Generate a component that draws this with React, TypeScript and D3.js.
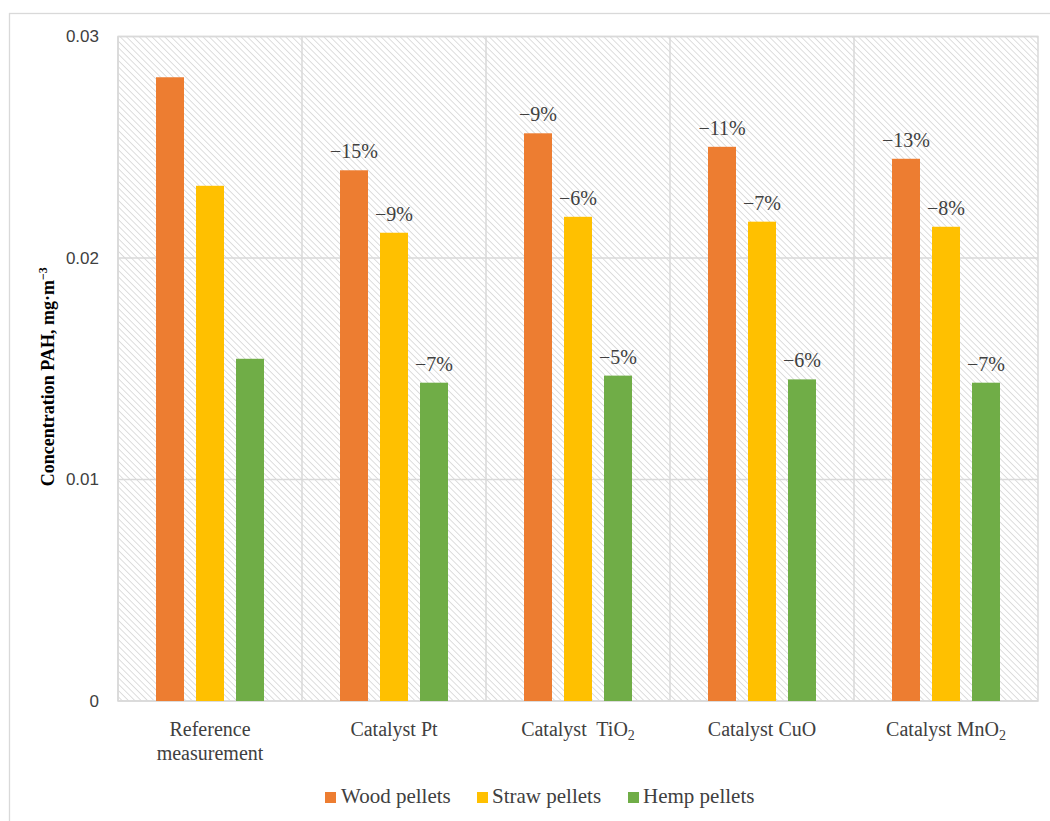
import React from "react";
import * as d3 from "d3";

const categories = ["Reference measurement", "Catalyst Pt", "Catalyst TiO2", "Catalyst CuO", "Catalyst MnO2"];
const seriesNames = ["Wood pellets", "Straw pellets", "Hemp pellets"];
const seriesColors = ["#ED7D31", "#FFC000", "#70AD47"];
const wood = [0.02816, 0.02396, 0.02563, 0.02502, 0.02448];
const straw = [0.02326, 0.02114, 0.02186, 0.02164, 0.02141];
const hemp = [0.01545, 0.01437, 0.01469, 0.01452, 0.01437];
const woodLabels = ["", "−15%", "−9%", "−11%", "−13%"];
const strawLabels = ["", "−9%", "−6%", "−7%", "−8%"];
const hempLabels = ["", "−7%", "−5%", "−6%", "−7%"];
const yTicks = [0, 0.01, 0.02, 0.03];
const yTickLabels = ["0", "0.01", "0.02", "0.03"];

const W = 1050, H = 821;
const M = { left: 118, right: 1038, top: 36.5, bottom: 701 };
const serif = "'Liberation Serif', 'Times New Roman', serif";
const sans = "'Liberation Sans', Arial, sans-serif";
const grid = "#d9d9d9";
const textCol = "#404040";

function CatLabel({ name, x }: { name: string; x: number }) {
  const y0 = 736;
  if (name === "Reference measurement") {
    return (
      <text x={x} y={y0} textAnchor="middle" fontFamily={serif} fontSize={20} fill={textCol}>
        <tspan x={x} y={y0}>Reference</tspan>
        <tspan x={x} y={y0 + 24}>measurement</tspan>
      </text>
    );
  }
  const m = name.match(/^(.*?)(\d)$/);
  if (m) {
    const base = name.includes("Ti") ? m[1].replace("Catalyst ", "Catalyst\u00a0 ") : m[1];
    return (
      <text x={x} y={y0} textAnchor="middle" fontFamily={serif} fontSize={20} fill={textCol}>
        {base}
        <tspan fontSize={14} dy={4}>{m[2]}</tspan>
      </text>
    );
  }
  return (
    <text x={x} y={y0} textAnchor="middle" fontFamily={serif} fontSize={20} fill={textCol}>{name}</text>
  );
}

export default function App() {
  const x0 = d3.scaleBand<string>().domain(categories).range([M.left, M.right]).padding(0);
  const x1 = d3.scaleBand<string>().domain(seriesNames).range([0, 108]).paddingInner(0.3).paddingOuter(0);
  const y = d3.scaleLinear().domain([0, 0.03]).range([M.bottom, M.top]);
  const data = [wood, straw, hemp];
  const labels = [woodLabels, strawLabels, hempLabels];
  const bw = x1.bandwidth();

  const legendItems = [
    { name: seriesNames[0], sx: 325, tx: 341 },
    { name: seriesNames[1], sx: 477, tx: 492 },
    { name: seriesNames[2], sx: 628, tx: 643 },
  ];

  return (
    <svg width={W} height={H} style={{ display: "block", position: "absolute", left: 0, top: 0 }}>
      <defs>
        <pattern id="hatch" width={4.5} height={4.5} patternUnits="userSpaceOnUse" patternTransform="rotate(-45)">
          <rect width={4.5} height={4.5} fill="#ffffff" />
          <line x1={0} y1={0} x2={0} y2={4.5} stroke="#d3d3d3" strokeWidth={1.5} />
        </pattern>
      </defs>
      <rect x={0} y={0} width={W} height={H} fill="#ffffff" />
      <rect x={9.5} y={13.5} width={1050} height={820} fill="none" stroke={grid} strokeWidth={1.3} />
      <rect x={M.left} y={M.top} width={M.right - M.left} height={M.bottom - M.top} fill="url(#hatch)" />
      {yTicks.map((t) => (
        <line key={t} x1={M.left} x2={M.right} y1={y(t)} y2={y(t)} stroke={grid} strokeWidth={1.5} />
      ))}
      {categories.map((c) => (
        <line key={c} x1={x0(c)!} x2={x0(c)!} y1={M.top} y2={M.bottom} stroke={grid} strokeWidth={1.5} />
      ))}
      <rect x={M.left} y={M.top} width={M.right - M.left} height={M.bottom - M.top} fill="none" stroke={grid} strokeWidth={1.5} />
      {yTicks.map((t, i) => (
        <text key={t} x={99} y={y(t)} dy="0.35em" textAnchor="end" fontFamily={sans} fontSize={17} fill={textCol}>
          {yTickLabels[i]}
        </text>
      ))}
      {categories.map((c, ci) => {
        const cx = x0(c)! + x0.bandwidth() / 2;
        const gx = cx - 54;
        return (
          <g key={c}>
            {seriesNames.map((s, si) => {
              const v = data[si][ci];
              const bx = gx + x1(s)!;
              return (
                <g key={s}>
                  <rect x={bx} y={y(v)} width={bw} height={y(0) - y(v)} fill={seriesColors[si]} />
                  {labels[si][ci] && (
                    <text x={bx + bw / 2} y={y(v) - 12} textAnchor="middle" fontFamily={serif} fontSize={20} fill={textCol}>
                      {labels[si][ci]}
                    </text>
                  )}
                </g>
              );
            })}
            <CatLabel name={c} x={cx} />
          </g>
        );
      })}
      <text transform={`translate(54, ${(M.top + M.bottom) / 2 + 8}) rotate(-90)`} textAnchor="middle" fontFamily={serif} fontWeight="bold" fontSize={18} fill="#000">
        Concentration PAH, mg·m<tspan fontSize={12} dy={-7}>−3</tspan>
      </text>
      {legendItems.map((l, i) => (
        <g key={l.name}>
          <rect x={l.sx} y={792} width={11} height={11} fill={seriesColors[i]} />
          <text x={l.tx} y={803} fontFamily={serif} fontSize={21} fill={textCol}>{l.name}</text>
        </g>
      ))}
    </svg>
  );
}
